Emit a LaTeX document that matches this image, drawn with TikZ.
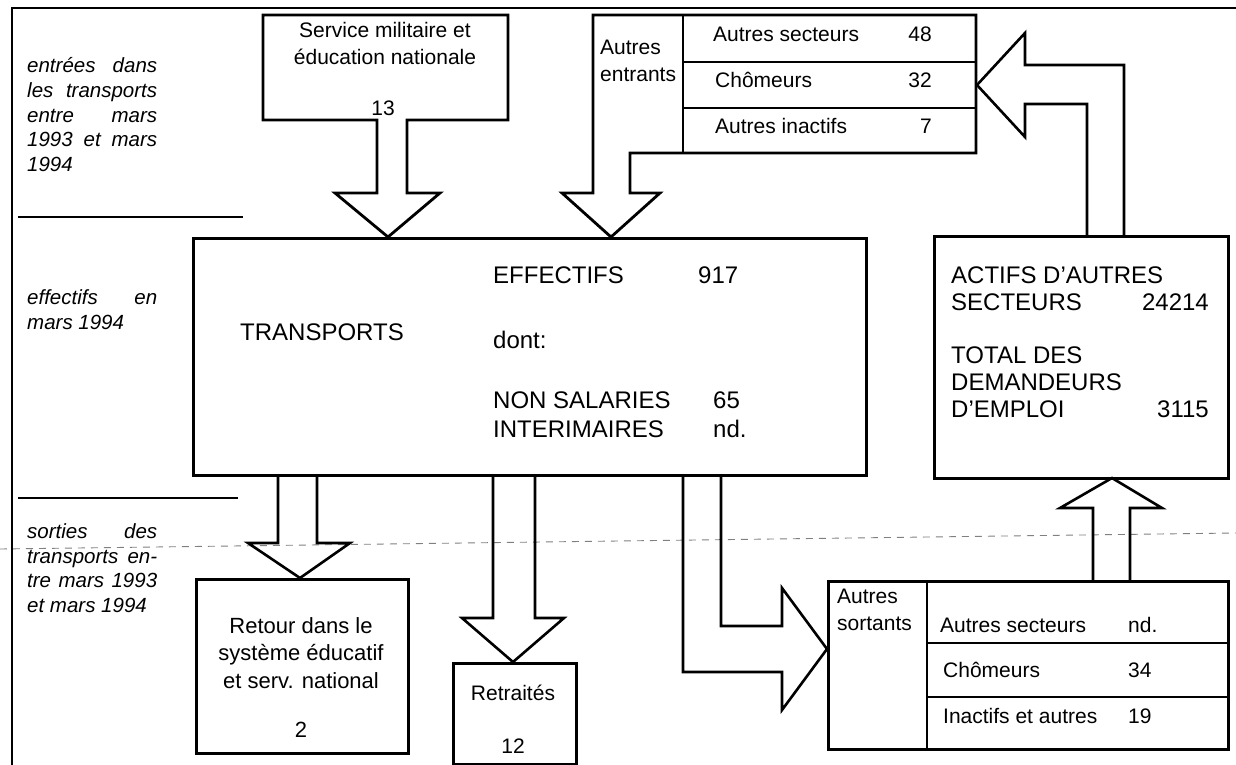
\documentclass[tikz,border=0pt]{standalone}
\usepackage{fontspec}
\setmainfont{Liberation Sans}[ItalicFont=Liberation Sans Italic]
\newcommand\FBig{\fontsize{24}{28}\selectfont}
\newcommand\FMid{\fontsize{21}{27}\selectfont}
\newcommand\FRet{\fontsize{22}{27.5}\selectfont}
\newcommand\FIt{\fontsize{20.5}{24.5}\selectfont\itshape}
\newcommand\JL[1]{\makebox[130pt][s]{\itshape #1}}
\tikzset{
  txt/.style={inner sep=0pt, anchor=base west},
  num/.style={inner sep=0pt, anchor=base east},
  ctr/.style={inner sep=0pt, anchor=base, align=center},
  boxline/.style={line width=2.8pt, line join=miter},
  blockarrow/.style={line width=2.6pt, line join=miter},
  sepline/.style={line width=2pt},
  rectbox/.style={draw, boxline, inner sep=0pt, anchor=north west},
}
\begin{document}
\begin{tikzpicture}[x=1pt, y=-1pt]
\useasboundingbox (0,0) rectangle (1236,765);

% frame and separators
\draw[gray, line width=0.9pt, dash pattern=on 7pt off 6pt] (0,549) -- (1236,533);
\draw[sepline] (12,765) -- (12,8) -- (1236,8);
\draw[sepline] (18,217) -- (243,217);
\draw[sepline] (18,498) -- (238,498);

% left labels (anchor = baseline of last line)
\node[txt, font=\FIt, align=left] (lblin) at (27,171)
  {\JL{entrées dans}\\\JL{les transports}\\\JL{entre mars}\\\JL{1993 et mars}\\\itshape 1994};
\node[txt, font=\FIt, align=left] (lbleff) at (27,329)
  {\JL{effectifs en}\\\itshape mars 1994};
\node[txt, font=\FIt, align=left] (lblout) at (27,612)
  {\JL{sorties des}\\\JL{transports en-}\\\JL{tre mars 1993}\\\itshape et mars 1994};

% Service militaire box with its arrow
\coordinate (svcA) at (377,120);
\draw[boxline] (svcA) -- (263,120) -- (263,15) -- (508,15) -- (508,120) -- (407,120)
  -- (407,193) -- (440,193) -- (388,237) -- (335,193) -- (377,193) -- cycle;
\node[ctr, font=\FMid] (svc) at (385,65) {Service militaire et\\éducation nationale};
\node[ctr, font=\FMid] (svcn) at (383,116) {13};

% Autres entrants box with its arrow
\draw[boxline] (630,193) -- (630,153) -- (976,153) -- (976,15) -- (593,15) -- (593,193)
  -- (562,193) -- (611,237) -- (660,193) -- cycle;
\draw[boxline] (683,15) -- (683,153);
\draw[boxline] (683,62) -- (976,62);
\draw[boxline] (683,108) -- (976,108);
\node[txt, font=\FMid, align=left] (entr) at (600,82) {Autres\\entrants};
\node[txt, font=\FMid] (e1) at (713,42) {Autres secteurs};
\node[num, font=\FMid] (e1n) at (932,42) {48};
\node[txt, font=\FMid] (e2) at (715,88) {Chômeurs};
\node[num, font=\FMid] (e2n) at (932,88) {32};
\node[txt, font=\FMid] (e3) at (715,133) {Autres inactifs};
\node[num, font=\FMid] (e3n) at (932,133) {7};

% TRANSPORTS box
\node[rectbox, minimum width=673pt, minimum height=237pt] (trans) at (192,237) {};
\node[txt, font=\FBig] (tr) at (240,340) {TRANSPORTS};
\node[txt, font=\FBig] (eff) at (493,283) {EFFECTIFS};
\node[txt, font=\FBig] (effn) at (698,283) {917};
\node[txt, font=\FBig] (dont) at (493,348) {dont:};
\node[txt, font=\FBig] (ns) at (493,408) {NON SALARIES};
\node[txt, font=\FBig] (nsn) at (713,408) {65};
\node[txt, font=\FBig] (int) at (493,437) {INTERIMAIRES};
\node[txt, font=\FBig] (intn) at (713,437) {nd.};

% ACTIFS box
\node[rectbox, minimum width=294pt, minimum height=242pt] (act) at (933,235) {};
\node[txt, font=\FBig] (a1) at (951,283) {ACTIFS D'AUTRES};
\node[txt, font=\FBig] (a2) at (951,310) {SECTEURS};
\node[num, font=\FBig] (a2n) at (1209,310) {24214};
\node[txt, font=\FBig] (a3) at (951,363) {TOTAL DES};
\node[txt, font=\FBig] (a4) at (951,390) {DEMANDEURS};
\node[txt, font=\FBig] (a5) at (951,417) {D'EMPLOI};
\node[num, font=\FBig] (a5n) at (1209,417) {3115};

% arrow ACTIFS -> Autres entrants
\draw[blockarrow] (1087,235) -- (1087,104) -- (1025,104) -- (1025,137) -- (977,85)
  -- (1025,33) -- (1025,65) -- (1124,65) -- (1124,235);

% Autres sortants box
\node[rectbox, minimum width=400pt, minimum height=168pt] (sort) at (827,580) {};
\draw[boxline] (927,580) -- (927,748);
\draw[boxline] (927,643) -- (1227,643);
\draw[boxline] (927,697) -- (1227,697);
\node[txt, font=\FMid, align=left] (sortl) at (837,630) {Autres\\sortants};
\node[txt, font=\FMid] (s1) at (940,632) {Autres secteurs};
\node[txt, font=\FMid] (s1n) at (1128,632) {nd.};
\node[txt, font=\FMid] (s2) at (943,677) {Chômeurs};
\node[txt, font=\FMid] (s2n) at (1128,677) {34};
\node[txt, font=\FMid] (s3) at (943,723) {Inactifs et autres};
\node[txt, font=\FMid] (s3n) at (1128,723) {19};

% arrow Autres sortants -> ACTIFS
\draw[blockarrow] (1093,580) -- (1093,508) -- (1060,508) -- (1112,478) -- (1162,508)
  -- (1130,508) -- (1130,580);

% arrow TRANSPORTS -> Autres sortants
\draw[blockarrow] (721,474) -- (721,626) -- (782,626) -- (782,588) -- (827,649)
  -- (782,710) -- (782,672) -- (683,672) -- (683,474);

% Retraites
\draw[blockarrow] (493,474) -- (493,618) -- (462,618) -- (513,662) -- (564,618)
  -- (535,618) -- (535,474);
\node[rectbox, minimum width=123pt, minimum height=101pt] (ret) at (452,662) {};
\node[ctr, font=\FMid] (retl) at (513,700) {Retraités};
\node[ctr, font=\FMid] (retn) at (513,753) {12};

% Retour
\draw[blockarrow] (278,474) -- (278,543) -- (248,543) -- (300,578) -- (350,543)
  -- (317,543) -- (317,474);
\node[rectbox, minimum width=212pt, minimum height=174pt] (rtr) at (195,578) {};
\node[ctr, font=\FRet] (rtrl) at (301,688) {Retour dans le\\système éducatif\\et serv. national};
\node[ctr, font=\FRet] (rtrn) at (301,737) {2};
\end{tikzpicture}
\end{document}
